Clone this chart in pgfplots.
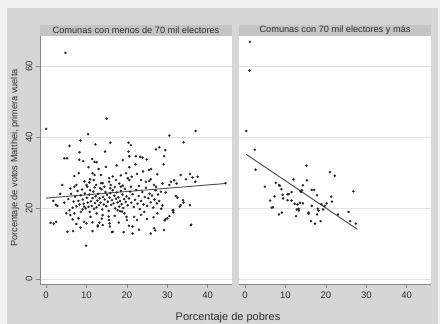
\documentclass[border=0pt]{standalone}
\usepackage{pgfplots}
\pgfplotsset{compat=1.18}
\usepackage{fontspec}
\setmainfont{Liberation Sans}
\definecolor{bggray}{RGB}{214,214,214}
\definecolor{stripgray}{RGB}{196,196,196}
\definecolor{gridgray}{RGB}{226,226,226}
\definecolor{axisgray}{RGB}{135,135,135}
\definecolor{fitgray}{RGB}{85,85,85}
\definecolor{txt}{RGB}{45,45,45}
\pgfplotsset{
 panel/.style={
  scale only axis, width=192pt, height=248pt,
  xmin=-1.5, xmax=46, ymin=-1.4, ymax=68.45,
  axis background/.style={fill=white},
  axis x line*=bottom, axis y line*=left,
  axis line style={-, axisgray, line width=0.6pt},
  xtick={0,10,20,30,40}, ytick={0,20,40,60},
  ymajorgrids, major grid style={gridgray, line width=0.8pt},
  tick align=outside, major tick length=4pt,
  tick style={axisgray, line width=0.6pt},
  ticklabel style={font=\fontsize{9.5}{11}\selectfont, text=txt},
  /pgf/number format/assume math mode=true,
  clip=false,
 },
 dots/.style={only marks, mark=*, mark size=1.15pt, mark options={fill=black!85, draw=black!85, line width=0.2pt}},
 fitl/.style={no marks, fitgray, line width=1pt},
}
\begin{document}
\begin{tikzpicture}
\path[use as bounding box, fill=white!94!black] (0pt,0pt) rectangle (440pt,324pt);
\fill[bggray] (7pt,0pt) rectangle (438pt,316pt);
% left panel
\begin{axis}[panel, at={(40pt,40pt)}, anchor=south west,
  yticklabel style={rotate=90, anchor=south}]
\addplot[dots] table {
x y
0 42.3
4.8 63.7
15.0 45.2
10.4 40.8
8.5 39.0
5.8 37.5
12.2 37.9
15.9 38.4
20.4 38.4
21.0 37.7
30.5 40.4
34.0 38.5
37.0 41.7
27.2 36.5
28.0 37.1
29.5 36.3
8.3 35.7
14.6 35.9
20.4 35.9
4.5 34.0
5.2 34.0
8.2 33.6
9.2 33.2
11.4 33.8
12.0 33.0
12.5 32.9
20.6 34.6
22.2 34.6
23.3 34.4
23.9 34.2
24.9 33.7
29.2 34.6
22.1 32.3
14.8 31.6
20.6 31.5
25.5 30.7
29.1 32.3
8.1 29.8
11.5 29.8
12.0 29.3
13.6 29.3
19.8 29.8
33.3 29.3
35.6 29.6
15.6 28.4
20.2 28.4
21.2 28.8
10.9 28.1
17.3 27.9
20.6 27.9
23.5 27.9
25.9 28.1
34.6 28.1
36.2 28.6
37.5 28.8
31.7 27.8
12.4 26.5
13.6 27.0
14.0 27.0
10.7 27.2
15.6 27.4
18.1 26.9
24.7 27.4
25.5 27.6
28.8 26.9
30.9 27.4
32.3 26.9
36.9 27.4
10.0 26.5
7.5 26.5
16.0 26.5
26.7 26.5
30.5 26.5
7.0 26.0
14.4 26.0
18.5 26.0
27.2 26.0
13.4 25.6
15.9 25.6
44.4 27.0
2.4 20.9
1.8 22.0
2.8 20.6
6.6 20.1
5.8 19.4
6.0 18.0
7.0 18.5
8.6 18.9
9.0 19.6
9.4 20.4
8.0 17.1
6.6 16.8
9.4 16.1
10.0 15.7
11.5 16.0
12.8 14.8
14.0 15.2
13.2 15.9
2.5 16.1
1.9 15.6
1.1 15.8
5.3 13.3
6.7 13.5
9.9 9.4
12.8 15.1
16.3 13.2
19.2 13.2
21.4 12.8
25.9 12.8
27.0 13.7
29.2 13.8
35.9 15.3
14.0 18.0
15.5 17.6
15.6 16.6
15.7 15.7
15.8 14.8
16.5 13.3
17.7 19.4
18.3 19.1
18.8 19.0
19.4 18.5
19.9 17.5
20.0 16.6
21.8 17.5
21.4 14.8
24.3 18.9
26.6 17.4
26.7 14.3
29.6 24.4
32.1 23.4
32.5 22.9
34.0 21.5
33.1 20.4
35.6 20.8
31.5 19.4
31.5 18.8
30.5 17.7
29.5 16.8
35.8 15.2
33.3 20.8
33.9 22.2
31.3 19.4
30.0 17.1
29.4 16.5
5.5 22.5
6.2 24.0
6.8 21.8
7.2 23.2
7.5 20.5
7.8 24.8
8.0 22.0
8.3 21.0
8.6 23.6
8.9 25.2
9.1 22.4
9.3 21.2
9.6 24.1
9.8 19.9
10.1 22.9
10.3 21.5
10.5 20.3
10.7 23.8
10.9 25.0
11.1 21.9
11.3 20.6
11.5 22.8
11.7 24.6
11.9 19.8
12.1 21.4
12.3 23.3
12.5 20.2
12.7 22.1
12.9 24.0
13.1 20.8
13.3 22.7
13.5 21.5
13.7 25.3
13.9 19.6
14.1 23.1
14.3 21.0
14.5 22.4
14.7 24.5
14.9 20.5
15.1 23.7
15.3 21.8
15.5 19.2
15.7 22.9
15.9 24.2
16.1 20.9
16.3 22.2
16.5 25.0
16.7 21.3
16.9 23.5
17.1 19.9
17.3 22.6
17.5 24.4
17.7 21.6
17.9 23.0
18.1 20.4
18.3 22.0
18.5 24.8
18.7 21.1
18.9 23.8
19.1 20.0
19.3 22.5
19.5 25.4
19.7 21.7
19.9 23.3
20.2 20.8
20.5 22.7
20.8 24.6
21.1 21.5
21.4 23.9
21.7 20.3
22.0 22.3
22.3 25.1
22.6 21.2
22.9 23.4
23.2 19.7
23.5 22.0
23.8 24.5
24.1 21.0
24.4 23.1
24.7 25.7
25.0 20.6
25.3 22.8
25.6 24.0
25.9 21.6
26.2 23.5
26.5 20.1
26.8 22.4
27.1 25.0
27.4 21.3
27.7 23.8
28.0 22.0
28.4 24.6
28.8 20.7
10.2 26.0
12.0 25.8
17.0 25.9
19.0 26.3
21.0 26.0
23.0 26.2
6.0 25.5
9.5 27.5
11.8 27.9
16.5 28.9
18.5 29.2
22.5 29.6
24.0 30.3
26.0 31.0
27.5 29.5
13.0 31.0
17.5 32.0
19.0 33.5
10.5 31.5
7.0 29.0
4.0 26.5
3.5 24.0
4.5 21.5
5.0 18.5
7.5 15.5
11.0 17.5
12.5 18.5
13.8 17.0
17.0 17.8
18.0 15.9
20.5 15.0
22.5 16.6
23.5 18.1
25.0 16.9
27.5 18.5
28.5 19.8
23.0 13.9
11.5 13.5
8.5 14.5
10.8 18.9
};
\addplot[fitl] coordinates {(0,22.8) (44.4,26.9)};
\fill[stripgray] (rel axis cs:0,1) rectangle ([yshift=11pt]rel axis cs:1,1);
\node[text=txt, font=\fontsize{9.2}{10}\selectfont] at ([yshift=5.5pt]rel axis cs:0.5,1) {Comunas con menos de 70 mil electores};
\end{axis}
% right panel
\begin{axis}[panel, at={(239pt,40pt)}, anchor=south west,
  yticklabels={}, ytick style={draw=none}, y axis line style={draw=none}]
\addplot[dots] table {
x y
0.3 41.7
1.2 66.8
1.1 58.7
2.4 36.4
2.6 30.8
15.2 31.9
21.0 30.1
22.2 29.1
26.8 24.7
4.9 26.0
7.6 27.1
8.4 26.4
9.0 25.3
12.0 28.1
15.3 27.8
14.3 26.4
13.9 24.5
14.1 25.0
13.7 24.8
16.5 25.1
17.8 23.6
21.3 23.2
9.3 23.7
7.3 23.3
6.2 22.1
10.5 23.9
11.5 24.5
10.5 22.2
11.5 22.1
12.3 21.2
13.0 21.0
13.6 21.5
14.3 21.3
6.6 20.1
13.3 19.8
13.3 19.3
16.5 20.6
18.0 19.8
18.9 21.1
19.7 20.6
18.2 19.3
25.6 18.9
23.0 18.2
9.1 18.7
8.4 18.2
12.6 17.7
15.7 18.4
17.8 18.2
16.3 16.3
17.3 15.6
18.7 16.3
26.0 16.3
27.4 15.6
9.4 22.7
10.8 23.9
6.9 20.2
12.8 19.6
15.7 18.7
19.3 19.6
20.2 21.3
21.5 21.8
8.6 26.3
17.1 25.1
};
\addplot[fitl] coordinates {(0.3,35.1) (27.8,14.0)};
\fill[stripgray] (rel axis cs:0,1) rectangle ([yshift=11pt]rel axis cs:1,1);
\node[text=txt, font=\fontsize{9.2}{10}\selectfont] at ([yshift=5.5pt]rel axis cs:0.5,1) {Comunas con 70 mil electores y más};
\end{axis}
\node[text=txt, font=\fontsize{11}{13}\selectfont] at (228pt,6pt) {Porcentaje de pobres};
\node[text=txt, rotate=90, font=\fontsize{9.2}{11}\selectfont] at (15pt,166pt) {Porcentaje de votos Matthei, primera vuelta};
\end{tikzpicture}
\end{document}
